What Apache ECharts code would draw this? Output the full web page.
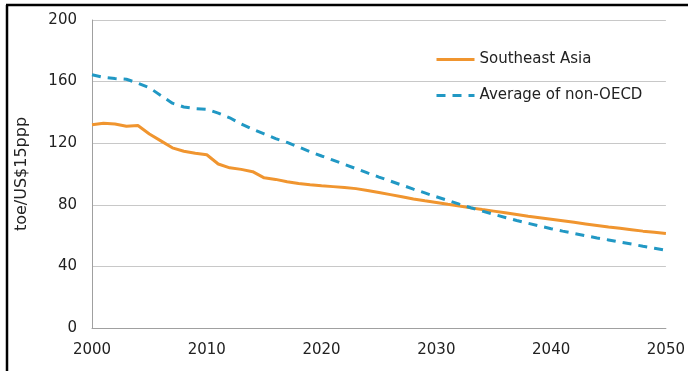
<!DOCTYPE html>
<html>
<head>
<meta charset="utf-8">
<script src="https://cdn.jsdelivr.net/npm/echarts@6/dist/echarts.min.js"></script>
<style>
  html, body { margin: 0; padding: 0; background: #fff; }
  #main { width: 688px; height: 371px; }
</style>
</head>
<body>
<div id="main"></div>
<script>
const years = [];
for (let y = 2000; y <= 2050; y++) years.push(y);

// toe per US$15 ppp
const southeastAsia = [
  132, 133, 132.5, 131, 131.5, 126, 121.5, 117, 114.8, 113.5,
  112.5, 106.5, 104, 103, 101.5, 97.5, 96.5, 95, 93.8, 93,
  92.3, 91.8, 91.2, 90.5, 89.3, 88, 86.6, 85.2, 83.8, 82.6,
  81.5, 80.3, 79.2, 78, 76.9, 75.9, 74.8, 73.7, 72.6, 71.6,
  70.6, 69.6, 68.6, 67.6, 66.6, 65.6, 64.7, 63.8, 62.9, 62.1,
  61.3
];
const nonOecd = [
  164.5, 162.8, 162, 161.5, 159, 156, 151, 146, 143.5, 142.5,
  142, 139.5, 136.5, 132.5, 129, 126, 123, 120.5, 117.5, 114.5,
  111.7, 109, 106.2, 103.5, 100.7, 98, 95.4, 92.8, 90.2, 87.7,
  85.2, 82.8, 80.4, 78.1, 75.9, 73.8, 71.8, 69.8, 68, 66.2,
  64.5, 62.9, 61.4, 59.9, 58.5, 57.2, 55.8, 54.5, 53.1, 51.8,
  50.5
];
const seriesNames = ['Southeast Asia', 'Average of non-OECD'];
const yTitle = 'toe/US$15ppp';

const font = 'DejaVu Sans, Verdana, sans-serif';
const chart = echarts.init(document.getElementById('main'));

chart.setOption({
  animation: false,
  textStyle: { fontFamily: font },
  grid: { left: 92, right: 19, top: 20, bottom: 43 },
  graphic: [
    // frame of the original picture: left and top edges only
    { type: 'line', shape: { x1: 7, y1: 5, x2: 7, y2: 371 }, style: { stroke: '#000', lineWidth: 2.5 } },
    { type: 'line', shape: { x1: 6, y1: 5, x2: 688, y2: 5 }, style: { stroke: '#000', lineWidth: 2.5 } }
  ],
  legend: {
    orient: 'vertical',
    left: 430,
    top: 47,
    itemWidth: 38,
    itemHeight: 15,
    itemGap: 21,
    itemStyle: { opacity: 0 },
    lineStyle: { width: 3 },
    textStyle: { fontSize: 15, color: '#222', fontFamily: font },
    data: seriesNames
  },
  xAxis: {
    type: 'value',
    min: 2000,
    max: 2050,
    interval: 10,
    axisLine: { show: true, lineStyle: { color: '#a0a0a0', width: 1 } },
    axisTick: { show: false },
    splitLine: { show: false },
    axisLabel: { fontSize: 15, color: '#222', margin: 15, fontFamily: font, formatter: v => String(v) }
  },
  yAxis: {
    type: 'value',
    min: 0,
    max: 200,
    interval: 40,
    name: yTitle,
    nameLocation: 'middle',
    nameGap: 62,
    nameTextStyle: { fontSize: 16, color: '#222', fontFamily: font },
    axisLine: { show: true, lineStyle: { color: '#a0a0a0', width: 1 } },
    axisTick: { show: false },
    splitLine: { lineStyle: { color: '#c8c8c8', width: 1 } },
    axisLabel: { fontSize: 15, color: '#222', margin: 15, fontFamily: font }
  },
  series: [
    {
      name: seriesNames[0],
      type: 'line',
      symbol: 'none',
      lineStyle: { color: '#F0952F', width: 3 },
      itemStyle: { color: '#F0952F' },
      data: years.map((y, i) => [y, southeastAsia[i]])
    },
    {
      name: seriesNames[1],
      type: 'line',
      symbol: 'none',
      lineStyle: { color: '#2198C4', width: 3, type: [9, 7] },
      itemStyle: { color: '#2198C4' },
      data: years.map((y, i) => [y, nonOecd[i]])
    }
  ]
});
</script>
</body>
</html>
